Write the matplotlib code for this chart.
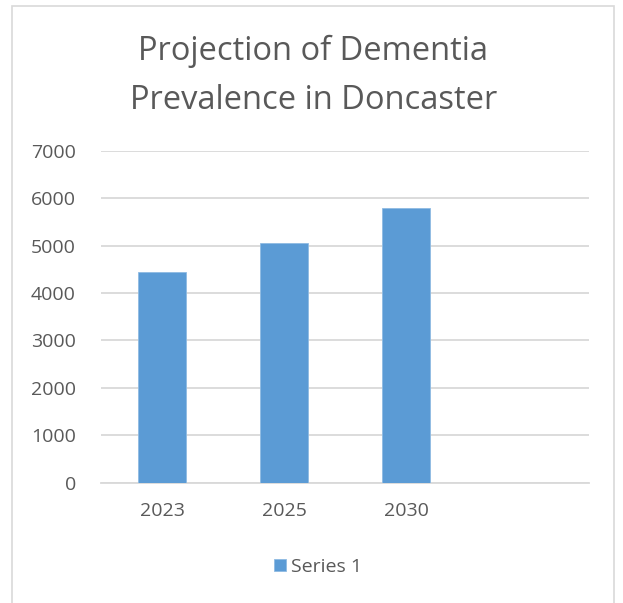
import numpy as np
import matplotlib.pyplot as plt
from matplotlib.patches import Rectangle

years = ['2023', '2025', '2030', '']
cases = [4436, 5054, 5785, np.nan]
series_name = 'Series 1'

plt.rcParams['font.family'] = ['Open Sans', 'DejaVu Sans']
text_grey = '#595959'
grid_grey = '#d9d9d9'
bar_blue = '#5b9bd5'

fig = plt.figure(figsize=(6.23, 6.03), dpi=100)
ax = fig.add_axes([101 / 623, 1 - 482.7 / 603, 488 / 623, 332 / 603])

x = np.arange(len(years))
ax.bar(x, cases, width=0.4, color=bar_blue, edgecolor='#8fbbe3', linewidth=0.6,
       label=series_name, zorder=3)

ax.set_xlim(-0.5, len(years) - 0.5)
ax.set_ylim(0, 7000)
ax.set_yticks(np.arange(0, 7001, 1000))
ax.set_xticks(x)
ax.set_xticklabels(years)
ax.tick_params(length=0, labelsize=14, colors=text_grey)
ax.tick_params(axis='x', pad=14)
ax.tick_params(axis='y', pad=18)
ax.grid(axis='y', color=grid_grey, linewidth=1.3, zorder=0)
for s in ['top', 'right', 'left']:
    ax.spines[s].set_visible(False)
ax.spines['bottom'].set_color(grid_grey)
ax.spines['bottom'].set_linewidth(1.3)

fig.text(0.503, 1 - 76 / 603, 'Projection of Dementia\nPrevalence in Doncaster',
         ha='center', va='center', fontsize=23.5, color=text_grey,
         linespacing=1.62)

leg = fig.legend(loc='center', bbox_to_anchor=(318 / 623, 1 - 567 / 603),
                 frameon=False, fontsize=14, handlelength=0.6,
                 handleheight=0.6, handletextpad=0.25)
for t in leg.get_texts():
    t.set_color(text_grey)

fig.patches.append(Rectangle((12 / 623, -0.01), 602 / 623, 1.01 - 6 / 603,
                             transform=fig.transFigure, fill=False,
                             edgecolor=grid_grey, linewidth=1.2))

plt.savefig('out.png', dpi=100)
